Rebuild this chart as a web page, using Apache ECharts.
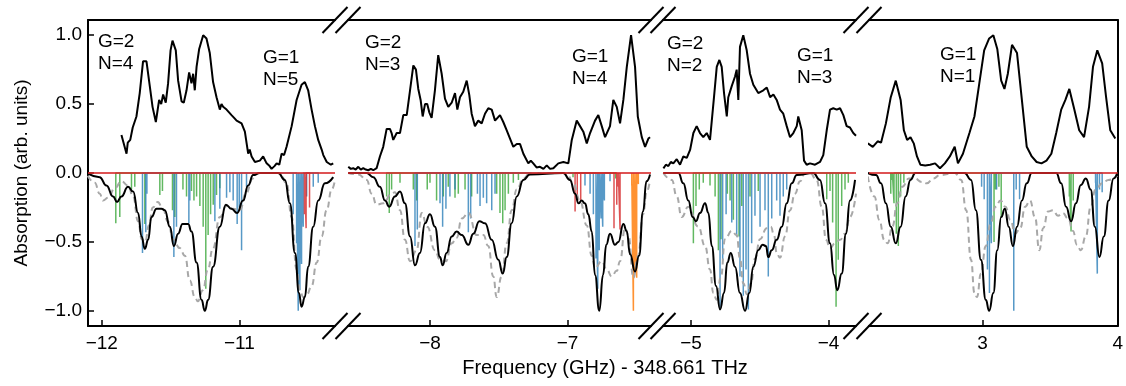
<!DOCTYPE html>
<html>
<head>
<meta charset="utf-8">
<script src="https://cdn.jsdelivr.net/npm/echarts@6/dist/echarts.min.js"></script>
<style>
  html, body { margin: 0; padding: 0; background: #fff; }
  #chart { width: 1126px; height: 386px; }
</style>
</head>
<body>
<div id="chart"></div>
<script>
// measured absorption (top traces), [GHz, signal]
const exp1 = [[-11.857,0.275],[-11.82,0.14],[-11.811,0.22],[-11.793,0.24],[-11.775,0.33],[-11.748,0.41],[-11.724,0.58],[-11.7,0.81],[-11.675,0.81],[-11.651,0.63],[-11.631,0.48],[-11.607,0.37],[-11.583,0.53],[-11.568,0.5],[-11.554,0.57],[-11.535,0.51],[-11.518,0.65],[-11.5,0.89],[-11.486,0.96],[-11.462,0.89],[-11.445,0.67],[-11.42,0.52],[-11.404,0.51],[-11.384,0.6],[-11.365,0.73],[-11.348,0.65],[-11.336,0.72],[-11.324,0.6],[-11.311,0.77],[-11.292,0.9],[-11.263,1.0],[-11.239,0.976],[-11.215,0.87],[-11.191,0.66],[-11.166,0.55],[-11.142,0.46],[-11.13,0.5],[-11.118,0.48],[-11.093,0.46],[-11.075,0.44],[-11.057,0.42],[-11.038,0.4],[-11.02,0.38],[-10.984,0.36],[-10.96,0.3],[-10.936,0.14],[-10.925,0.17],[-10.911,0.12],[-10.887,0.08],[-10.851,0.09],[-10.827,0.12],[-10.802,0.07],[-10.78,0.05],[-10.766,0.03],[-10.745,0.05],[-10.729,0.07],[-10.71,0.06],[-10.693,0.14],[-10.675,0.13],[-10.657,0.19],[-10.62,0.34],[-10.584,0.53],[-10.548,0.64],[-10.524,0.66],[-10.5,0.6],[-10.475,0.46],[-10.451,0.34],[-10.427,0.24],[-10.402,0.17],[-10.39,0.13],[-10.378,0.12],[-10.365,0.08],[-10.354,0.09],[-10.335,0.06],[-10.318,0.07]];
const exp2 = [[-8.594,0.045],[-8.576,0.03],[-8.558,0.035],[-8.54,0.025],[-8.521,0.045],[-8.503,0.025],[-8.485,0.035],[-8.467,0.025],[-8.449,0.02],[-8.43,0.03],[-8.412,0.02],[-8.388,0.035],[-8.364,0.12],[-8.34,0.19],[-8.315,0.32],[-8.291,0.32],[-8.279,0.29],[-8.267,0.24],[-8.242,0.29],[-8.218,0.29],[-8.194,0.42],[-8.169,0.42],[-8.145,0.6],[-8.121,0.78],[-8.102,0.75],[-8.085,0.61],[-8.068,0.53],[-8.053,0.41],[-8.036,0.5],[-8.02,0.5],[-8.005,0.44],[-7.988,0.4],[-7.964,0.6],[-7.94,0.855],[-7.915,0.72],[-7.891,0.54],[-7.867,0.48],[-7.842,0.51],[-7.818,0.58],[-7.801,0.46],[-7.782,0.55],[-7.758,0.59],[-7.733,0.67],[-7.714,0.565],[-7.697,0.43],[-7.673,0.34],[-7.649,0.38],[-7.624,0.36],[-7.6,0.43],[-7.576,0.47],[-7.551,0.46],[-7.527,0.38],[-7.491,0.42],[-7.467,0.37],[-7.442,0.31],[-7.418,0.25],[-7.394,0.19],[-7.369,0.21],[-7.345,0.21],[-7.321,0.14],[-7.285,0.07],[-7.267,0.09],[-7.249,0.07],[-7.225,0.04],[-7.2,0.045],[-7.175,0.03],[-7.151,0.055],[-7.127,0.03],[-7.103,0.035],[-7.067,0.07],[-7.03,0.08],[-6.994,0.07],[-6.969,0.24],[-6.933,0.38],[-6.909,0.34],[-6.885,0.3],[-6.86,0.215],[-6.836,0.29],[-6.8,0.38],[-6.776,0.42],[-6.751,0.34],[-6.727,0.26],[-6.691,0.34],[-6.667,0.53],[-6.642,0.48],[-6.618,0.36],[-6.594,0.53],[-6.569,0.77],[-6.538,1.0],[-6.509,0.77],[-6.489,0.41],[-6.46,0.26],[-6.436,0.19],[-6.412,0.25],[-6.4,0.26]];
const exp3 = [[-5.201,0.034],[-5.183,0.06],[-5.165,0.05],[-5.147,0.08],[-5.129,0.07],[-5.104,0.1],[-5.092,0.08],[-5.08,0.06],[-5.056,0.12],[-5.031,0.11],[-5.007,0.167],[-4.983,0.29],[-4.959,0.34],[-4.935,0.29],[-4.911,0.26],[-4.886,0.29],[-4.862,0.24],[-4.849,0.38],[-4.833,0.55],[-4.813,0.77],[-4.794,0.82],[-4.777,0.77],[-4.76,0.58],[-4.74,0.41],[-4.729,0.55],[-4.704,0.63],[-4.68,0.7],[-4.668,0.75],[-4.656,0.53],[-4.644,0.915],[-4.62,1.0],[-4.595,0.89],[-4.571,0.72],[-4.547,0.64],[-4.511,0.58],[-4.474,0.6],[-4.449,0.62],[-4.425,0.55],[-4.401,0.57],[-4.377,0.53],[-4.353,0.46],[-4.329,0.43],[-4.304,0.34],[-4.28,0.26],[-4.256,0.29],[-4.231,0.34],[-4.22,0.41],[-4.195,0.31],[-4.178,0.09],[-4.159,0.06],[-4.135,0.07],[-4.098,0.06],[-4.062,0.08],[-4.038,0.13],[-4.013,0.31],[-3.989,0.46],[-3.965,0.47],[-3.94,0.46],[-3.916,0.47],[-3.892,0.42],[-3.868,0.34],[-3.844,0.33],[-3.82,0.29],[-3.8,0.27]];
const exp4 = [[2.151,0.215],[2.188,0.19],[2.224,0.23],[2.249,0.22],[2.285,0.36],[2.321,0.55],[2.358,0.67],[2.394,0.53],[2.418,0.31],[2.442,0.24],[2.467,0.26],[2.491,0.215],[2.515,0.12],[2.54,0.06],[2.576,0.055],[2.612,0.06],[2.649,0.07],[2.685,0.034],[2.721,0.07],[2.758,0.12],[2.794,0.19],[2.818,0.07],[2.855,0.14],[2.903,0.29],[2.94,0.41],[2.976,0.65],[3.012,0.89],[3.049,0.976],[3.08,1.0],[3.109,0.9],[3.138,0.67],[3.162,0.61],[3.187,0.72],[3.218,0.93],[3.255,0.87],[3.291,0.53],[3.327,0.19],[3.364,0.12],[3.4,0.08],[3.436,0.07],[3.473,0.09],[3.509,0.14],[3.545,0.29],[3.582,0.46],[3.613,0.53],[3.642,0.61],[3.679,0.46],[3.715,0.31],[3.751,0.26],[3.788,0.48],[3.817,0.77],[3.849,0.89],[3.885,0.795],[3.914,0.55],[3.945,0.31],[3.982,0.25]];

// simulated spectrum (black solid)
const sim1 = [[-12.1,-0.005],[-12.015,-0.03],[-11.966,-0.09],[-11.918,-0.17],[-11.889,-0.21],[-11.857,-0.17],[-11.809,-0.1],[-11.772,-0.135],[-11.736,-0.29],[-11.711,-0.46],[-11.687,-0.55],[-11.663,-0.485],[-11.639,-0.32],[-11.602,-0.26],[-11.566,-0.26],[-11.542,-0.27],[-11.505,-0.39],[-11.476,-0.53],[-11.445,-0.44],[-11.413,-0.37],[-11.372,-0.37],[-11.348,-0.425],[-11.311,-0.65],[-11.275,-0.92],[-11.251,-1.0],[-11.227,-0.92],[-11.191,-0.68],[-11.142,-0.39],[-11.098,-0.23],[-11.057,-0.26],[-11.016,-0.29],[-10.973,-0.2],[-10.936,-0.09],[-10.9,-0.015],[-10.851,0],[-10.718,0],[-10.669,-0.05],[-10.633,-0.22],[-10.596,-0.58],[-10.567,-0.87],[-10.548,-0.97],[-10.524,-0.9],[-10.5,-0.68],[-10.463,-0.39],[-10.427,-0.2],[-10.378,-0.075],[-10.318,-0.03]];
const sim2 = [[-8.594,0],[-8.46,0],[-8.412,-0.03],[-8.364,-0.1],[-8.327,-0.2],[-8.296,-0.245],[-8.255,-0.17],[-8.218,-0.135],[-8.182,-0.22],[-8.145,-0.46],[-8.109,-0.67],[-8.073,-0.58],[-8.036,-0.365],[-8.0,-0.3],[-7.964,-0.39],[-7.927,-0.61],[-7.908,-0.67],[-7.879,-0.58],[-7.842,-0.46],[-7.806,-0.425],[-7.769,-0.45],[-7.721,-0.52],[-7.685,-0.44],[-7.641,-0.35],[-7.6,-0.365],[-7.551,-0.485],[-7.503,-0.63],[-7.471,-0.73],[-7.442,-0.61],[-7.406,-0.365],[-7.369,-0.17],[-7.321,-0.05],[-7.273,-0.01],[-7.031,0],[-6.982,-0.05],[-6.945,-0.15],[-6.92,-0.22],[-6.897,-0.2],[-6.873,-0.22],[-6.849,-0.3],[-6.824,-0.425],[-6.8,-0.74],[-6.769,-1.0],[-6.742,-0.74],[-6.718,-0.52],[-6.691,-0.44],[-6.655,-0.52],[-6.63,-0.5],[-6.594,-0.37],[-6.57,-0.42],[-6.545,-0.59],[-6.509,-0.715],[-6.48,-0.6],[-6.451,-0.28],[-6.426,-0.06],[-6.4,-0.01]];
const sim3 = [[-5.201,0],[-5.092,0],[-5.056,-0.075],[-5.02,-0.2],[-4.988,-0.32],[-4.964,-0.35],[-4.935,-0.29],[-4.898,-0.22],[-4.874,-0.29],[-4.849,-0.53],[-4.818,-0.82],[-4.789,-0.99],[-4.76,-0.87],[-4.736,-0.65],[-4.711,-0.58],[-4.68,-0.68],[-4.644,-0.87],[-4.607,-1.0],[-4.576,-0.87],[-4.547,-0.68],[-4.511,-0.56],[-4.479,-0.52],[-4.455,-0.53],[-4.438,-0.61],[-4.413,-0.56],[-4.377,-0.485],[-4.34,-0.39],[-4.304,-0.22],[-4.268,-0.075],[-4.231,-0.015],[-4.111,0],[-4.062,-0.05],[-4.025,-0.22],[-3.989,-0.51],[-3.96,-0.74],[-3.936,-0.85],[-3.904,-0.73],[-3.873,-0.44],[-3.844,-0.2],[-3.807,-0.05]];
const sim4 = [[2.151,0],[2.212,-0.015],[2.249,-0.075],[2.285,-0.22],[2.321,-0.39],[2.358,-0.51],[2.394,-0.39],[2.431,-0.17],[2.467,-0.05],[2.503,0],[2.867,0],[2.915,-0.05],[2.951,-0.27],[2.988,-0.63],[3.024,-0.92],[3.049,-1.0],[3.08,-0.87],[3.109,-0.56],[3.138,-0.32],[3.165,-0.26],[3.194,-0.39],[3.225,-0.53],[3.255,-0.39],[3.291,-0.2],[3.327,-0.075],[3.364,0],[3.545,0],[3.582,-0.075],[3.618,-0.245],[3.655,-0.35],[3.691,-0.22],[3.727,-0.087],[3.764,-0.04],[3.8,-0.12],[3.831,-0.39],[3.865,-0.61],[3.897,-0.46],[3.933,-0.2],[3.969,-0.04],[3.996,0]];

// second simulation (grey dashed)
const ref1 = [[-12.102,-0.02],[-12.051,-0.07],[-12.015,-0.15],[-11.991,-0.2],[-11.954,-0.18],[-11.905,-0.11],[-11.857,-0.06],[-11.809,-0.09],[-11.772,-0.17],[-11.736,-0.35],[-11.709,-0.48],[-11.684,-0.5],[-11.658,-0.38],[-11.629,-0.25],[-11.593,-0.21],[-11.556,-0.26],[-11.52,-0.35],[-11.481,-0.48],[-11.433,-0.545],[-11.396,-0.6],[-11.36,-0.78],[-11.324,-0.9],[-11.302,-0.93],[-11.265,-0.85],[-11.229,-0.7],[-11.193,-0.55],[-11.142,-0.32],[-11.093,-0.24],[-11.047,-0.26],[-10.996,-0.27],[-10.953,-0.15],[-10.902,-0.04],[-10.865,0],[-10.705,0],[-10.657,-0.075],[-10.62,-0.32],[-10.584,-0.7],[-10.56,-0.85],[-10.536,-0.9],[-10.509,-0.88],[-10.475,-0.82],[-10.438,-0.65],[-10.402,-0.46],[-10.366,-0.27],[-10.329,-0.12],[-10.305,-0.05]];
const ref2 = [[-8.594,0],[-8.521,-0.01],[-8.46,-0.05],[-8.424,-0.15],[-8.388,-0.23],[-8.34,-0.22],[-8.279,-0.15],[-8.255,-0.14],[-8.218,-0.27],[-8.182,-0.485],[-8.145,-0.64],[-8.097,-0.56],[-8.06,-0.29],[-8.02,-0.39],[-7.964,-0.56],[-7.927,-0.63],[-7.884,-0.64],[-7.842,-0.51],[-7.806,-0.47],[-7.769,-0.33],[-7.721,-0.29],[-7.66,-0.45],[-7.612,-0.45],[-7.576,-0.53],[-7.54,-0.75],[-7.515,-0.9],[-7.479,-0.75],[-7.442,-0.51],[-7.406,-0.27],[-7.369,-0.12],[-7.321,-0.04],[-7.273,0],[-7.006,0],[-6.958,-0.075],[-6.909,-0.2],[-6.86,-0.38],[-6.824,-0.6],[-6.8,-0.69],[-6.751,-0.64],[-6.715,-0.7],[-6.679,-0.75],[-6.642,-0.71],[-6.618,-0.64],[-6.582,-0.4],[-6.558,-0.45],[-6.521,-0.76],[-6.487,-0.6],[-6.451,-0.3],[-6.424,-0.135],[-6.4,-0.05]];
const ref3 = [[-5.201,0],[-5.14,-0.05],[-5.104,-0.17],[-5.068,-0.32],[-5.02,-0.245],[-4.947,-0.39],[-4.898,-0.53],[-4.862,-0.7],[-4.838,-0.87],[-4.813,-0.92],[-4.782,-0.75],[-4.753,-0.48],[-4.704,-0.42],[-4.668,-0.45],[-4.644,-0.62],[-4.62,-0.8],[-4.593,-0.88],[-4.564,-0.8],[-4.535,-0.62],[-4.498,-0.48],[-4.449,-0.4],[-4.42,-0.39],[-4.396,-0.45],[-4.377,-0.58],[-4.353,-0.615],[-4.316,-0.46],[-4.28,-0.27],[-4.244,-0.15],[-4.207,-0.06],[-4.171,0],[-4.135,0],[-4.086,-0.05],[-4.049,-0.245],[-4.018,-0.485],[-3.989,-0.545],[-3.953,-0.51],[-3.916,-0.485],[-3.88,-0.44],[-3.844,-0.32],[-3.8,-0.15]];
const ref4 = [[2.151,-0.025],[2.2,-0.17],[2.236,-0.34],[2.273,-0.485],[2.297,-0.51],[2.333,-0.39],[2.369,-0.22],[2.406,-0.1],[2.455,-0.04],[2.498,-0.04],[2.551,-0.065],[2.588,-0.075],[2.636,-0.04],[2.685,-0.015],[2.794,0],[2.842,-0.05],[2.879,-0.27],[2.915,-0.63],[2.94,-0.87],[2.959,-0.9],[2.988,-0.73],[3.024,-0.53],[3.06,-0.365],[3.097,-0.245],[3.133,-0.2],[3.169,-0.245],[3.206,-0.34],[3.242,-0.44],[3.279,-0.4],[3.315,-0.245],[3.351,-0.2],[3.388,-0.32],[3.42,-0.56],[3.449,-0.4],[3.485,-0.28],[3.521,-0.27],[3.558,-0.31],[3.594,-0.29],[3.633,-0.33],[3.669,-0.42],[3.698,-0.52],[3.727,-0.56],[3.764,-0.46],[3.8,-0.245],[3.836,-0.12],[3.885,-0.075],[3.931,-0.05],[3.996,-0.02]];

// stick spectra, [GHz, depth]
const green1 = [[-11.898,0.365],[-11.869,0.32],[-11.784,0.12],[-11.76,0.1],[-11.687,0.37],[-11.578,0.16],[-11.559,0.13],[-11.486,0.27],[-11.469,0.32],[-11.41,0.12],[-11.384,0.17],[-11.348,0.13],[-11.33,0.2],[-11.311,0.17],[-11.287,0.24],[-11.263,0.39],[-11.244,0.84],[-11.227,0.45],[-11.209,0.3],[-11.19,0.23],[-11.166,0.16],[-11.142,0.11]];
const blue1 = [[-11.704,0.58],[-11.68,0.43],[-11.672,0.15],[-11.476,0.61],[-11.457,0.39],[-11.367,0.365],[-11.36,0.2],[-11.178,0.35],[-11.142,0.26],[-11.093,0.18],[-11.069,0.14],[-11.045,0.2],[-11.016,0.37],[-11.001,0.25],[-10.984,0.56],[-10.948,0.1],[-10.609,0.3],[-10.584,0.51],[-10.572,1.0],[-10.56,0.85],[-10.548,0.66],[-10.536,0.39],[-10.511,0.17],[-10.463,0.1],[-10.427,0.07]];
const red1 = [[-10.527,0.3],[-10.515,0.4],[-10.49,0.25]];
const green2 = [[-8.315,0.17],[-8.296,0.29],[-8.279,0.12],[-8.218,0.07],[-8.121,0.12],[-8.097,0.2],[-8.02,0.12],[-8.0,0.07],[-7.952,0.2],[-7.903,0.17],[-7.867,0.1],[-7.818,0.18],[-7.794,0.15],[-7.745,0.12],[-7.697,0.17],[-7.515,0.15],[-7.491,0.29],[-7.471,0.365],[-7.454,0.27],[-7.43,0.15],[-7.394,0.07],[-7.357,0.05],[-6.96,0.03],[-6.65,0.04]];
const blue2 = [[-8.109,0.53],[-8.092,0.41],[-7.927,0.22],[-7.908,0.39],[-7.884,0.26],[-7.855,0.17],[-7.818,0.12],[-7.721,0.43],[-7.704,0.33],[-7.655,0.15],[-7.636,0.24],[-7.612,0.18],[-7.588,0.22],[-7.551,0.27],[-7.527,0.15],[-6.873,0.09],[-6.836,0.15],[-6.812,0.3],[-6.793,0.62],[-6.78,0.84],[-6.769,0.56],[-6.756,0.33],[-6.744,0.39],[-6.732,0.2],[-6.691,0.06]];
const red2 = [[-6.945,0.28],[-6.929,0.16],[-6.904,0.2],[-6.662,0.4],[-6.642,0.23],[-6.63,0.1],[-6.618,0.41]];
const orange2 = [[-6.533,0.09],[-6.521,1.0],[-6.509,0.72],[-6.497,0.76],[-6.485,0.08]];
const green3 = [[-4.983,0.51],[-4.964,0.24],[-4.94,0.12],[-4.911,0.07],[-4.862,0.09],[-4.825,0.17],[-4.801,0.56],[-4.782,0.48],[-4.736,0.15],[-4.716,0.2],[-4.692,0.34],[-4.651,0.46],[-4.631,0.24],[-4.571,0.17],[-4.511,0.13],[-4.013,0.19],[-3.989,0.13],[-3.97,0.36],[-3.945,0.97],[-3.929,0.63],[-3.904,0.24],[-3.88,0.12],[-3.856,0.07]];
const blue3 = [[-4.789,0.99],[-4.77,0.63],[-4.745,0.3],[-4.704,0.36],[-4.668,0.46],[-4.644,0.75],[-4.62,0.89],[-4.6,0.7],[-4.583,0.99],[-4.559,0.51],[-4.535,0.31],[-4.498,0.39],[-4.462,0.27],[-4.438,0.75],[-4.413,0.33],[-4.377,0.2],[-4.353,0.31],[-4.329,0.17],[-4.304,0.12]];
const green4 = [[2.321,0.15],[2.333,0.05],[2.345,0.22],[2.362,0.44],[2.377,0.53],[2.394,0.17],[2.418,0.07],[3.085,0.5],[3.097,0.12],[3.121,0.1],[3.138,0.32],[3.642,0.17],[3.655,0.425],[3.671,0.2]];
const blue4 = [[2.993,0.1],[3.012,0.19],[3.036,0.7],[3.051,0.87],[3.065,0.51],[3.104,0.12],[3.231,1.0],[3.249,0.12],[3.274,0.19],[3.836,0.07],[3.849,0.73],[3.865,0.12],[3.885,0.14]];

// axis ranges and tick labels of the four broken-axis panels
const xRanges = [[-12.10, -10.305], [-8.596, -6.393], [-5.204, -3.80], [2.16, 4.0]];
const xTicks = [[-12, -11], [-8, -7], [-5, -4], [3, 4]];
const yTicks = [-1, -0.5, 0, 0.5, 1];
const labels = ["G=2\nN=4", "G=1\nN=5", "G=2\nN=3", "G=1\nN=4", "G=2\nN=2", "G=1\nN=3", "G=1\nN=1"];

const COLORS = {
  green: "rgba(44,160,44,0.75)",
  blue: "rgba(31,119,180,0.75)",
  red: "rgba(214,39,40,0.8)",
  orange: "rgba(255,127,14,0.85)",
};
const FONT = "'Liberation Sans', Arial, sans-serif";
const FS = 19;

const panels = [
  { exp: exp1, sim: sim1, ref: ref1, sticks: { green: green1, blue: blue1, red: red1 } },
  { exp: exp2, sim: sim2, ref: ref2, sticks: { green: green2, blue: blue2, red: red2, orange: orange2 } },
  { exp: exp3, sim: sim3, ref: ref3, sticks: { green: green3, blue: blue3 } },
  { exp: exp4, sim: sim4, ref: ref4, sticks: { green: green4, blue: blue4 } },
];

// layout (pixels)
const gridLeft = [88, 348, 663, 869];
const gridWidth = [247, 303, 193, 253];
const gridTop = 20, gridHeight = 306;

const minus = (v) => (v < 0 ? "\u2212" + Math.abs(v) : String(v));

function stickLine(arr) {
  const out = [];
  arr.slice().sort((a, b) => a[0] - b[0]).forEach(([x, d]) => {
    out.push([x, 0], [x, -d], [x, 0]);
  });
  return out;
}

const chart = echarts.init(document.getElementById("chart"), null, { renderer: "canvas" });

const grid = [], xAxis = [], yAxis = [], series = [];
panels.forEach((p, i) => {
  grid.push({ left: gridLeft[i], width: gridWidth[i], top: gridTop, height: gridHeight });
  const [xmin, xmax] = xRanges[i];
  xAxis.push({
    type: "value", gridIndex: i, min: xmin, max: xmax, position: "bottom",
    axisLine: { onZero: false, lineStyle: { color: "#000", width: 2 } },
    axisTick: { inside: true, length: 6, customValues: xTicks[i], lineStyle: { color: "#000", width: 1.5 } },
    axisLabel: { customValues: xTicks[i], formatter: minus, color: "#000", fontSize: FS, fontFamily: FONT, margin: 8 },
    splitLine: { show: false },
  });
  xAxis.push({
    type: "value", gridIndex: i, min: xmin, max: xmax, position: "top",
    axisLine: { onZero: false, lineStyle: { color: "#000", width: 2 } },
    axisTick: { show: false }, axisLabel: { show: false }, splitLine: { show: false },
  });
  const y = {
    type: "value", gridIndex: i, min: -1.11, max: 1.11,
    splitLine: { show: false },
    axisLine: { show: i === 0 || i === 3, onZero: false, lineStyle: { color: "#000", width: 2 } },
    axisTick: { show: false }, axisLabel: { show: false },
  };
  if (i === 0) {
    y.axisTick = { show: true, inside: true, length: 6, customValues: yTicks, lineStyle: { color: "#000", width: 1.5 } };
    y.axisLabel = {
      show: true, customValues: yTicks, color: "#000", fontSize: FS, fontFamily: FONT, margin: 6,
      formatter: (v) => (v < 0 ? "\u2212" : "") + Math.abs(v).toFixed(1),
    };
    y.name = "Absorption (arb. units)";
    y.nameLocation = "middle";
    y.nameGap = 57;
    y.nameRotate = 90;
    y.nameTextStyle = { color: "#000", fontSize: FS, fontFamily: FONT };
  }
  if (i === 3) y.position = "right";
  yAxis.push(y);

  const base = { type: "line", xAxisIndex: 2 * i, yAxisIndex: i, symbol: "none", silent: true, animation: false };
  Object.entries(p.sticks).forEach(([name, arr]) => {
    series.push({ ...base, name, data: stickLine(arr), lineStyle: { color: COLORS[name], width: 1.5 } });
  });
  series.push({ ...base, name: "ref", data: p.ref, smooth: 0.5, smoothMonotone: "x",
    lineStyle: { color: "#a8a8a8", width: 2, type: [6, 4] } });
  series.push({ ...base, name: "sim", data: p.sim, smooth: 0.5, smoothMonotone: "x",
    lineStyle: { color: "#000", width: 2 } });
  series.push({ ...base, name: "zero", data: [[xmin, 0], [xmax, 0]],
    lineStyle: { color: COLORS.red, width: 1.8 } });
  series.push({ ...base, name: "exp", data: p.exp, lineStyle: { color: "#000", width: 2 } });
});

// annotation boxes and broken-axis marks
const labelPos = [[98, 31], [263, 47], [365, 32], [572, 46], [667, 33], [797, 45], [940, 44]];
const graphic = labels.map((t, k) => ({
  type: "text", left: labelPos[k][0], top: labelPos[k][1], silent: true,
  style: { text: t, fill: "#000", fontSize: FS, lineHeight: 22, fontFamily: FONT },
}));
graphic.push({
  type: "text", x: 605, y: 358, silent: true,
  style: { text: "Frequency (GHz) - 348.661 THz", fill: "#000", fontSize: 20, fontFamily: FONT, align: "center", verticalAlign: "top" },
});
const breakEdges = [335, 348, 651, 663, 856, 869];
[gridTop, gridTop + gridHeight].forEach((yy) => {
  breakEdges.forEach((e) => {
    graphic.push({
      type: "line", silent: true,
      shape: { x1: e - 12.5, y1: yy + 13, x2: e + 12.5, y2: yy - 13 },
      style: { stroke: "#000", lineWidth: 2 },
    });
  });
});

chart.setOption({
  backgroundColor: "#fff",
  animation: false,
  grid, xAxis, yAxis, series, graphic,
});
</script>
</body>
</html>
